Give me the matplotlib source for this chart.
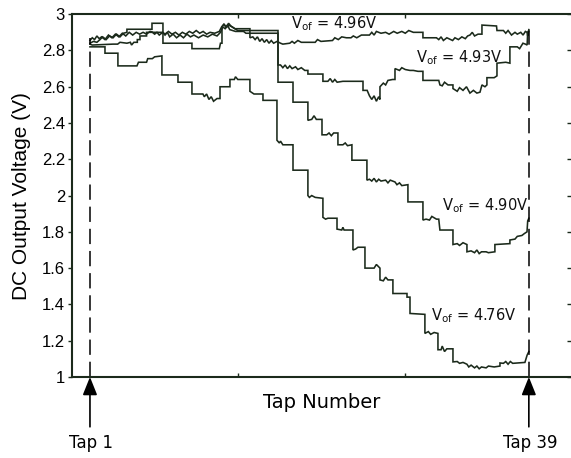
import matplotlib
matplotlib.use("Agg")
import matplotlib.pyplot as plt

# tap position vs. DC output voltage
vof_labels = ["4.96V", "4.93V", "4.90V", "4.76V"]

trace_496 = [
    (1.0, 2.835), (1.2, 2.83), (3.0, 2.835), (3.4, 2.835), (3.6, 2.845), (4.2, 2.84),
    (4.5, 2.845), (4.6, 2.83), (4.8, 2.845), (5.1, 2.845), (5.1, 2.86), (5.33, 2.86),
    (5.33, 2.88), (5.9, 2.88), (5.9, 2.9), (6.4, 2.9), (6.6, 2.89), (6.8, 2.9),
    (7.0, 2.885), (7.3, 2.9), (7.5, 2.89), (7.8, 2.905), (8.1, 2.89), (8.4, 2.9),
    (8.7, 2.885), (9.0, 2.9), (9.3, 2.89), (9.6, 2.905), (9.9, 2.895), (10.2, 2.91),
    (10.5, 2.895), (10.8, 2.905), (11.1, 2.89), (11.4, 2.9), (11.8, 2.895), (12.2, 2.905),
    (12.4, 2.93), (12.6, 2.945), (12.8, 2.93), (13.0, 2.95), (13.2, 2.935), (13.55, 2.92),
    (14.85, 2.92), (14.85, 2.87), (15.1, 2.875), (15.3, 2.86), (15.5, 2.875), (15.7, 2.85),
    (15.9, 2.865), (16.1, 2.845), (16.3, 2.86), (16.5, 2.84), (16.7, 2.855), (16.9, 2.84),
    (17.2, 2.85), (17.5, 2.84), (17.7, 2.835), (18.3, 2.84), (18.5, 2.85), (18.7, 2.84),
    (19.0, 2.855), (19.3, 2.845), (20.5, 2.845), (20.7, 2.86), (21.0, 2.85), (22.0, 2.855),
    (22.2, 2.87), (22.5, 2.86), (22.8, 2.875), (23.2, 2.87), (23.6, 2.87), (23.8, 2.88),
    (24.1, 2.87), (24.5, 2.885), (25.2, 2.885), (25.4, 2.9), (25.6, 2.885), (25.8, 2.905),
    (26.2, 2.895), (26.6, 2.9), (26.9, 2.89), (27.3, 2.905), (27.6, 2.895), (28.0, 2.905),
    (28.3, 2.895), (28.6, 2.91), (29.0, 2.9), (29.83, 2.9), (29.83, 2.87), (31.0, 2.87),
    (31.2, 2.86), (31.4, 2.875), (31.6, 2.855), (31.9, 2.87), (32.4, 2.855), (32.6, 2.87),
    (32.9, 2.86), (33.2, 2.875), (33.5, 2.865), (33.7, 2.88), (33.9, 2.885), (34.1, 2.9),
    (34.3, 2.88), (34.6, 2.89), (34.94, 2.89), (34.94, 2.94), (36.2, 2.935), (36.24, 2.91),
    (36.8, 2.91), (37.0, 2.895), (37.2, 2.91), (37.5, 2.885), (37.8, 2.9), (38.0, 2.89),
    (38.3, 2.9), (38.5, 2.885), (38.7, 2.905), (38.85, 2.9), (38.9, 2.88), (39.0, 2.915),
]

trace_493 = [
    (1.0, 2.855), (1.2, 2.87), (1.4, 2.86), (1.6, 2.88), (1.8, 2.865), (2.0, 2.875),
    (2.3, 2.86), (2.6, 2.885), (2.9, 2.87), (3.2, 2.89), (3.5, 2.875), (3.8, 2.895),
    (4.1, 2.88), (4.4, 2.9), (4.7, 2.885), (5.0, 2.9), (5.3, 2.89), (5.6, 2.9),
    (5.9, 2.89), (6.2, 2.905), (6.5, 2.9), (7.3, 2.9), (7.5, 2.885), (7.7, 2.9),
    (7.9, 2.875), (8.2, 2.89), (8.5, 2.87), (8.8, 2.885), (9.1, 2.87), (9.4, 2.89),
    (9.7, 2.875), (10.0, 2.885), (10.4, 2.87), (10.8, 2.885), (11.2, 2.875), (11.6, 2.89),
    (12.0, 2.88), (12.3, 2.9), (12.5, 2.93), (12.7, 2.92), (12.9, 2.94), (13.1, 2.915),
    (13.6, 2.905), (14.3, 2.905), (14.5, 2.895), (17.28, 2.895), (17.28, 2.72), (17.5, 2.72),
    (17.7, 2.705), (17.9, 2.72), (18.1, 2.7), (18.3, 2.715), (18.5, 2.7), (18.8, 2.71),
    (19.0, 2.695), (19.3, 2.705), (19.6, 2.69), (19.87, 2.69), (19.87, 2.67), (21.17, 2.67),
    (21.17, 2.63), (21.6, 2.63), (21.8, 2.645), (22.0, 2.625), (22.2, 2.64), (22.4, 2.625),
    (22.9, 2.63), (24.64, 2.63), (24.64, 2.58), (25.0, 2.58), (25.2, 2.55), (25.4, 2.53),
    (25.6, 2.55), (25.8, 2.52), (26.0, 2.545), (26.11, 2.53), (26.11, 2.6), (26.4, 2.62),
    (26.6, 2.61), (26.8, 2.635), (27.2, 2.64), (27.41, 2.64), (27.41, 2.7), (27.8, 2.69),
    (28.0, 2.705), (28.3, 2.695), (28.7, 2.69), (29.0, 2.69), (29.4, 2.685), (29.83, 2.685),
    (29.83, 2.635), (31.2, 2.635), (31.3, 2.61), (31.5, 2.605), (31.7, 2.625), (32.0, 2.61),
    (32.43, 2.61), (32.43, 2.59), (32.8, 2.575), (33.0, 2.595), (33.3, 2.58), (33.6, 2.6),
    (33.9, 2.565), (34.2, 2.58), (34.5, 2.565), (34.77, 2.57), (34.94, 2.61), (35.2, 2.6),
    (35.37, 2.61), (35.37, 2.65), (36.0, 2.65), (36.24, 2.66), (36.24, 2.73), (37.0, 2.735),
    (37.36, 2.73), (37.36, 2.82), (38.0, 2.82), (38.2, 2.81), (38.49, 2.84), (38.7, 2.835),
    (38.85, 2.83), (38.9, 2.9), (39.0, 2.91),
]

trace_490 = [
    (1.0, 2.84), (1.3, 2.85), (1.6, 2.845), (1.87, 2.86), (2.1, 2.875), (2.4, 2.86),
    (2.7, 2.88), (3.0, 2.87), (3.3, 2.89), (3.6, 2.875), (3.9, 2.895), (4.2, 2.9),
    (4.2, 2.917), (6.37, 2.917), (6.37, 2.95), (7.32, 2.95), (7.32, 2.84), (9.83, 2.84),
    (9.83, 2.81), (12.2, 2.81), (12.3, 2.84), (12.43, 2.84), (12.43, 2.93), (12.6, 2.945),
    (12.8, 2.925), (13.0, 2.94), (13.3, 2.93), (13.55, 2.92), (13.8, 2.91), (17.28, 2.91),
    (17.28, 2.625), (18.58, 2.625), (18.58, 2.515), (19.87, 2.515), (19.87, 2.415), (20.2, 2.42),
    (20.4, 2.44), (20.6, 2.42), (21.09, 2.42), (21.09, 2.335), (21.5, 2.335), (21.7, 2.345),
    (21.9, 2.33), (22.1, 2.345), (22.47, 2.345), (22.47, 2.28), (22.9, 2.28), (23.1, 2.29),
    (23.3, 2.275), (23.68, 2.28), (23.68, 2.195), (24.98, 2.195), (24.98, 2.085), (25.2, 2.09),
    (25.4, 2.08), (25.6, 2.095), (25.8, 2.075), (26.0, 2.09), (26.2, 2.08), (26.6, 2.085),
    (26.8, 2.07), (27.0, 2.085), (27.41, 2.075), (27.58, 2.06), (27.8, 2.07), (28.0, 2.055),
    (28.53, 2.06), (28.53, 1.965), (29.83, 1.965), (29.83, 1.865), (30.1, 1.87), (30.4, 1.865),
    (30.6, 1.885), (31.0, 1.87), (31.2, 1.87), (31.3, 1.81), (32.43, 1.81), (32.43, 1.73),
    (32.8, 1.735), (33.0, 1.725), (33.3, 1.74), (33.64, 1.73), (33.64, 1.69), (34.0, 1.695),
    (34.3, 1.685), (34.5, 1.7), (34.7, 1.68), (34.9, 1.69), (35.3, 1.69), (35.5, 1.685),
    (36.06, 1.69), (36.06, 1.73), (37.36, 1.735), (37.36, 1.755), (37.8, 1.76), (38.0, 1.775),
    (38.4, 1.78), (38.6, 1.79), (38.84, 1.8), (38.9, 1.86), (39.0, 1.875),
]

trace_476 = [
    (1.0, 2.82), (2.3, 2.82), (2.3, 2.785), (3.42, 2.785), (3.42, 2.715), (5.07, 2.715),
    (5.2, 2.735), (5.9, 2.735), (6.0, 2.755), (6.4, 2.755), (6.6, 2.765), (7.23, 2.77),
    (7.23, 2.665), (8.62, 2.665), (8.62, 2.625), (9.83, 2.625), (9.83, 2.56), (10.78, 2.56),
    (10.9, 2.545), (11.1, 2.56), (11.3, 2.53), (11.5, 2.545), (11.7, 2.52), (12.0, 2.535),
    (12.26, 2.535), (12.26, 2.6), (13.12, 2.6), (13.12, 2.64), (13.5, 2.64), (13.6, 2.655),
    (13.8, 2.64), (14.85, 2.64), (14.85, 2.575), (15.2, 2.56), (15.98, 2.56), (15.98, 2.525),
    (17.19, 2.525), (17.19, 2.305), (17.4, 2.29), (17.5, 2.3), (17.7, 2.28), (18.58, 2.28),
    (18.58, 2.14), (19.87, 2.14), (19.87, 2.0), (20.0, 1.99), (20.2, 2.0), (20.5, 1.99),
    (21.17, 1.985), (21.17, 1.88), (21.4, 1.87), (21.6, 1.875), (22.39, 1.875), (22.39, 1.815),
    (22.8, 1.81), (22.9, 1.825), (23.0, 1.81), (23.77, 1.81), (23.77, 1.70), (24.0, 1.705),
    (24.2, 1.715), (24.81, 1.715), (24.81, 1.60), (25.6, 1.6), (25.8, 1.62), (26.11, 1.6),
    (26.11, 1.535), (26.4, 1.53), (26.6, 1.55), (26.8, 1.535), (27.23, 1.535), (27.23, 1.46),
    (28.45, 1.46), (28.45, 1.44), (28.71, 1.44), (28.71, 1.35), (30.0, 1.345), (30.0, 1.24),
    (30.3, 1.25), (30.5, 1.235), (30.8, 1.245), (31.13, 1.24), (31.13, 1.15), (31.4, 1.15),
    (31.5, 1.17), (31.7, 1.14), (31.9, 1.155), (32.43, 1.155), (32.43, 1.083), (32.8, 1.085),
    (33.0, 1.075), (33.3, 1.08), (33.64, 1.07), (33.8, 1.055), (34.0, 1.065), (34.3, 1.05),
    (34.5, 1.06), (34.7, 1.045), (34.9, 1.055), (35.3, 1.05), (35.5, 1.06), (36.0, 1.055),
    (36.5, 1.06), (36.5, 1.077), (36.8, 1.075), (37.0, 1.085), (37.2, 1.07), (37.4, 1.085),
    (37.6, 1.075), (38.66, 1.08), (38.85, 1.12), (39.0, 1.14),
]

yticks = [1, 1.2, 1.4, 1.6, 1.8, 2, 2.2, 2.4, 2.6, 2.8, 3]
ytick_labels = ["1", "1.2", "1.4", "1.6", "1.8", "2", "2.2", "2.4", "2.6", "2.8", "3"]
first_tap, last_tap = 1, 39

ink = "#1b2a1b"

fig = plt.figure(figsize=(5.71, 4.58), dpi=100)
ax = fig.add_axes([0.126, 0.177, 0.874, 0.792])

for tr in [trace_496, trace_493, trace_490, trace_476]:
    t, v = zip(*tr)
    ax.plot(t, v, color=ink, lw=1.15, solid_joinstyle="miter")

# dashed markers at the first / last tap
for tap, top in ((first_tap, 2.87), (last_tap, 2.91)):
    ax.plot([tap, tap], [1.0, top], color="black", lw=1.1,
            dashes=(10, 4.5), clip_on=False)

ax.set_xlim(-0.56, 42.65)
ax.set_ylim(1, 3)
ax.set_yticks(yticks)
ax.set_yticklabels(ytick_labels, fontfamily="Liberation Sans", fontsize=12)
lo, hi = ax.get_xlim()
ax.set_xticks([lo + (hi - lo) / 3, lo + 2 * (hi - lo) / 3])
ax.set_xticklabels([])

ax.tick_params(axis="y", which="both", left=True, right=False, direction="out",
               length=3, width=1.0, color=ink, pad=2)
ax.tick_params(axis="x", direction="in", top=True, bottom=True, length=3,
               width=1.0, color=ink)
# right side ticks only (no right spine)
ax2 = ax.twinx()
ax2.set_ylim(1, 3)
ax2.set_yticks(yticks)
ax2.set_yticklabels([])
ax2.tick_params(axis="y", direction="in", length=3, width=1.0, color=ink)
for s in ax2.spines.values():
    s.set_visible(False)

for name in ("left", "bottom", "top"):
    ax.spines[name].set_linewidth(1.5)
    ax.spines[name].set_color(ink)
ax.spines["right"].set_visible(False)

ax.set_ylabel("DC Output Voltage (V)", fontfamily="Liberation Sans", fontsize=15,
              labelpad=8)
ax.set_xlabel("Tap Number", fontfamily="DejaVu Sans", fontsize=14, labelpad=8)

# V_of annotations
label_pos = [(18.4, 2.923), (29.2, 2.736), (31.5, 1.92), (30.5, 1.314)]
for lab, (x, y) in zip(vof_labels, label_pos):
    ax.text(x, y, r"V$_{\mathrm{of}}$ = " + lab, fontsize=10.5,
            fontfamily="DejaVu Sans", ha="left", va="baseline", color="#111111")

# arrows below the axis
for tap, txt in ((first_tap, "Tap 1"), (last_tap, "Tap 39")):
    ax.annotate("", xy=(tap, 1.0), xytext=(tap, 0.725), annotation_clip=False,
                arrowprops=dict(arrowstyle="-|>,head_length=0.55,head_width=0.22",
                                mutation_scale=20, color="black", lw=1.2,
                                shrinkA=0, shrinkB=0))
    ax.text(tap + 0.1, 0.636, txt, fontsize=12, fontfamily="DejaVu Sans",
            ha="center", va="center", clip_on=False)

fig.savefig("out.png", dpi=100)
